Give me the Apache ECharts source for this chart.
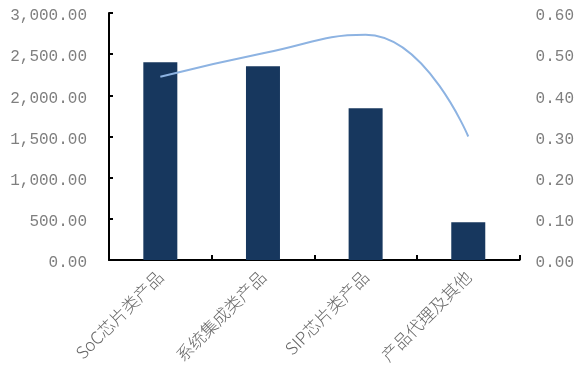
<!DOCTYPE html>
<html><head><meta charset="utf-8">
<script src="https://cdn.jsdelivr.net/npm/echarts@6/dist/echarts.min.js"></script>
<style>html,body{margin:0;padding:0;background:#fff}#c{width:577px;height:378px}</style>
</head><body><div id="c"></div>
<script>
var categories = ['SoC芯片类产品', '系统集成类产品', 'SIP芯片类产品', '产品代理及其他'];
var barValues = [2402, 2353, 1843, 458];
var lineValues = [0.445, 0.502, 0.547, 0.30];
var leftTicks = [0, 500, 1000, 1500, 2000, 2500, 3000];
var rightTicks = [0, 0.1, 0.2, 0.3, 0.4, 0.5, 0.6];

function fmtThousands(v) {
  var s = v.toFixed(2);
  var parts = s.split('.');
  parts[0] = parts[0].replace(/\B(?=(\d{3})+(?!\d))/g, ',');
  return parts.join('.');
}
var numFont = { fontFamily: 'Liberation Mono', fontSize: 16, color: '#7f7f7f', verticalAlign: 'top', padding: [-5, 0, 0, 0] };
var chart = echarts.init(document.getElementById('c'), null, { renderer: 'canvas' });
chart.setOption({
  animation: false,
  grid: { left: 109, right: 56, top: 13, bottom: 118, containLabel: false },
  xAxis: {
    type: 'category',
    data: categories,
    axisLine: { lineStyle: { color: '#000', width: 2 } },
    axisTick: { show: true, inside: true, length: 5, lineStyle: { color: '#000', width: 2 } },
    axisLabel: { rotate: 45, margin: 14, fontFamily: 'Noto Sans CJK SC', fontSize: 17, fontWeight: 300, color: '#666666' }
  },
  yAxis: [{
    type: 'value', min: leftTicks[0], max: leftTicks[leftTicks.length - 1], interval: 500,
    axisLine: { show: true, lineStyle: { color: '#000', width: 2 } },
    axisTick: { show: true, inside: true, length: 4, lineStyle: { color: '#000', width: 2 } },
    splitLine: { show: false },
    axisLabel: Object.assign({ margin: 22, formatter: fmtThousands }, numFont)
  }, {
    type: 'value', min: rightTicks[0], max: rightTicks[rightTicks.length - 1], interval: 0.1,
    axisLine: { show: false },
    axisTick: { show: false },
    splitLine: { show: false },
    axisLabel: Object.assign({ margin: 16, formatter: function (v) { return v.toFixed(2); } }, numFont)
  }],
  series: [{
    type: 'bar', data: barValues, barWidth: 34, yAxisIndex: 0,
    itemStyle: { color: '#17375e' }
  }, {
    type: 'line', data: lineValues, yAxisIndex: 1, smooth: 0.5, showSymbol: false, symbol: 'none',
    lineStyle: { color: '#8db3e2', width: 2 }
  }]
});
</script>
</body></html>
